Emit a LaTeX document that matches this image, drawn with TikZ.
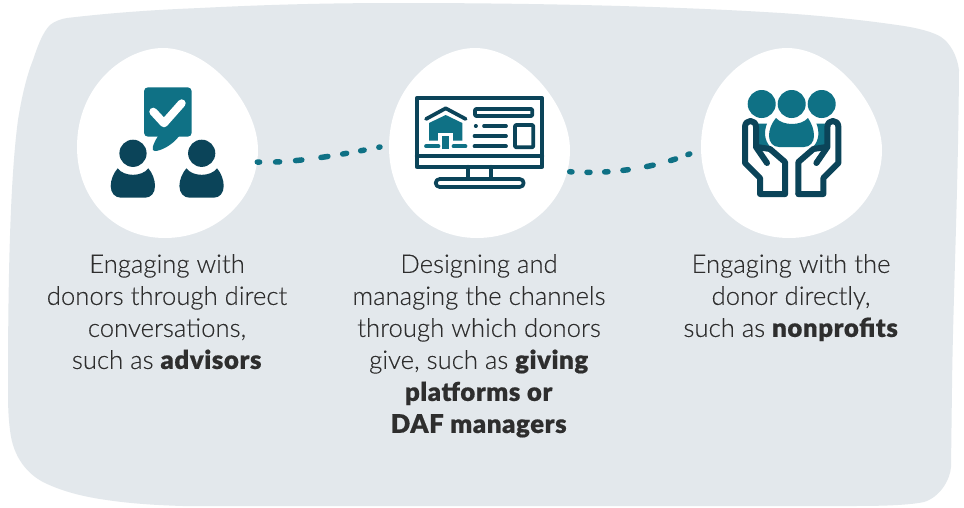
\documentclass[tikz,border=0pt]{standalone}
\usepackage{fontspec}
\setmainfont[UprightFont={Lato Light},BoldFont={Lato Black},BoldFeatures={LetterSpace=2.5,FakeBold=0.6},UprightFeatures={FakeBold=0.15}]{Lato}
\definecolor{bgblob}{HTML}{E3E8EC}
\definecolor{teal}{HTML}{0F7185}
\definecolor{navy}{HTML}{0B4459}
\tikzset{
  lbl/.style={align=center,font=\fontsize{25.7}{32}\selectfont,text=black!82,inner sep=0pt},
  ic/.style={draw=navy,line width=3.7pt,line join=round,line cap=round},
  dots/.style={draw=teal,line width=5.5pt,line cap=round},
}
\newcommand{\whiteblob}[1]{%
  \fill[white] (#1+77,147) .. controls (#1+77,85) and (#1+125,48) .. (#1+163,48)
    .. controls (#1+210,48) and (#1+258,105) .. (#1+258,150)
    .. controls (#1+258,200) and (#1+215,238) .. (#1+165,238)
    .. controls (#1+115,238) and (#1+77,200) .. (#1+77,147) -- cycle;
}
\begin{document}
\begin{tikzpicture}[x=1pt,y=-1pt]
\useasboundingbox (0,0) rectangle (964,507);
\fill[white] (0,0) rectangle (964,507);
\fill[bgblob] (50,25) .. controls (55,21) and (61,19) .. (67,18)
  .. controls (110,13) and (150,10) .. (200,8)
  .. controls (260,5) and (320,3) .. (400,3)
  .. controls (550,3) and (680,7) .. (764,12)
  .. controls (820,15) and (870,21) .. (897,25)
  .. controls (920,28) and (935,33) .. (941,37)
  .. controls (950,43) and (957,55) .. (959,70)
  .. controls (958,200) and (953,300) .. (952,387)
  -- (951,467)
  .. controls (950,480) and (940,497) .. (924,502)
  .. controls (905,506) and (870,506) .. (847,506)
  -- (183,506)
  .. controls (150,505) and (125,503) .. (100,499)
  .. controls (75,495) and (57,489) .. (43,482)
  .. controls (28,474) and (13,458) .. (10,430)
  .. controls (8,415) and (8,400) .. (8,387)
  .. controls (8,280) and (10,180) .. (18,120)
  .. controls (22,95) and (27,75) .. (33,60)
  .. controls (38,45) and (43,32) .. (50,25) -- cycle;
\whiteblob{0}
\whiteblob{312}
\whiteblob{624}
\coordinate (d1s) at (257.3,162);
\coordinate (d1e) at (380,147);
\coordinate (d2s) at (569.7,171.7);
\coordinate (d2e) at (692,153);
\draw[dots,dash pattern=on 2.3pt off 16pt on 4pt off 16pt on 6.3pt off 19.3pt on 7pt off 15pt on 4pt off 14.3pt on 3.5pt off 15pt on 2pt off 30pt] (d1s) .. controls (290,163.5) and (335,156) .. (d1e);
\draw[dots,dash pattern=on 2.3pt off 15pt on 3pt off 14.7pt on 3.3pt off 15pt on 5.3pt off 18.7pt on 6.7pt off 18pt on 5.3pt off 13pt on 2pt off 30pt] (d2s) .. controls (612,174.5) and (655,168) .. (d2e);
% icon 1
\fill[teal,rounded corners=4pt] (144,87.3) rectangle (191.7,136.7);
\fill[teal] (160,135) -- (180,135) .. controls (172,146) and (160,151) .. (155,151) .. controls (151,151) and (152,146) .. (158,136) -- cycle;
\draw[white,line width=8pt,line cap=round,line join=round] (153.3,111.7) -- (164,123.3) -- (181.7,103.3);
\fill[navy] (133,153.3) circle (13.6);
\fill[navy] (201.7,153.3) circle (13.6);
\foreach \ox in {0,68.7} {
  \begin{scope}[shift={(\ox,0)}]
  \fill[navy] (117.7,168.3) .. controls (124,177) and (142,177) .. (148.3,168.3) .. controls (152.5,173) and (155,180) .. (155,186)
   .. controls (155,193) and (151,197.7) .. (145,197.7) -- (121,197.7) .. controls (115,197.7) and (110.7,193) .. (110.7,186) .. controls (110.7,180) and (113.5,173) .. (117.7,168.3) -- cycle;
  \end{scope}
}
% icon 2
\begin{scope}[ic]
\draw (416.7,98.3) rectangle (542.3,166.7);
\draw (416.7,156) -- (542.3,156);
\draw (468.3,166.7) -- (468.3,179);
\draw (490.7,166.7) -- (490.7,179);
\draw[rounded corners=4pt] (435.7,179) rectangle (523.7,187);
\draw[rounded corners=1pt] (475,109) rectangle (532.3,116);
\draw (475.7,126) -- (476,126);
\draw (484,126) -- (506,126);
\draw (474.5,136) -- (506,136);
\draw (474.5,146.3) -- (506,146.3);
\draw[rounded corners=1pt] (515,125) rectangle (533.3,147.3);
\end{scope}
\fill[teal] (429,123) -- (445.7,115) -- (462.3,123) -- (462.3,140.7) -- (429,140.7) -- cycle;
\draw[navy,line width=3.7pt,line cap=round,line join=round] (426,119) -- (445.7,108.3) -- (465.7,119);
\fill[white] (438,132.7) rectangle (453,141);
\fill[teal] (442.3,136) rectangle (449,148.7);
\draw[teal,line width=3.7pt,line cap=round] (426,146.3) -- (438.5,146.3) (453.5,146.3) -- (465.5,146.3);
% icon 3
\fill[teal] (761.7,104) circle (14);
\fill[teal] (791.7,104) circle (14);
\fill[teal] (821.7,104) circle (14);
\fill[teal] (776,118) .. controls (783,126) and (801,126) .. (808,118) .. controls (812,124) and (814,130) .. (814,136)
  .. controls (814,142) and (810,147) .. (804,147) -- (779,147) .. controls (773,147) and (769,142) .. (769,136) .. controls (769,130) and (771,124) .. (776,118) -- cycle;
\foreach \sh/\sc in {0/1,1583.4/-1} {
  \begin{scope}[shift={(\sh,0)},xscale=\sc]
  \fill[teal] (757,123.5) -- (767,123.5) .. controls (764,131) and (764,140) .. (770,146.5) -- (757,146.5) -- cycle;
  \draw[ic,line width=6pt] (785,194) -- (760,194) -- (760,178) -- (745,163) -- (745,127) .. controls (745,119) and (756,119) .. (756,127) -- (756,147) -- (767,163);
  \draw[ic,line width=6pt] (785,194) -- (785,162) -- (770,149) -- (757,147);
  \end{scope}
}
\node[lbl,anchor=north] (t1) at (167,254) {Engaging with\\donors through direct\\conversations,\\such as \textbf{advisors}};
\node[lbl,anchor=north] (t2) at (479,254) {Designing and\\managing the channels\\through which donors\\give, such as \textbf{giving}\\\textbf{platforms or}\\\textbf{DAF managers}};
\node[lbl,anchor=north] (t3) at (791,254) {Engaging with the\\donor directly,\\such as \textbf{nonprofits}};
\end{tikzpicture}
\end{document}
